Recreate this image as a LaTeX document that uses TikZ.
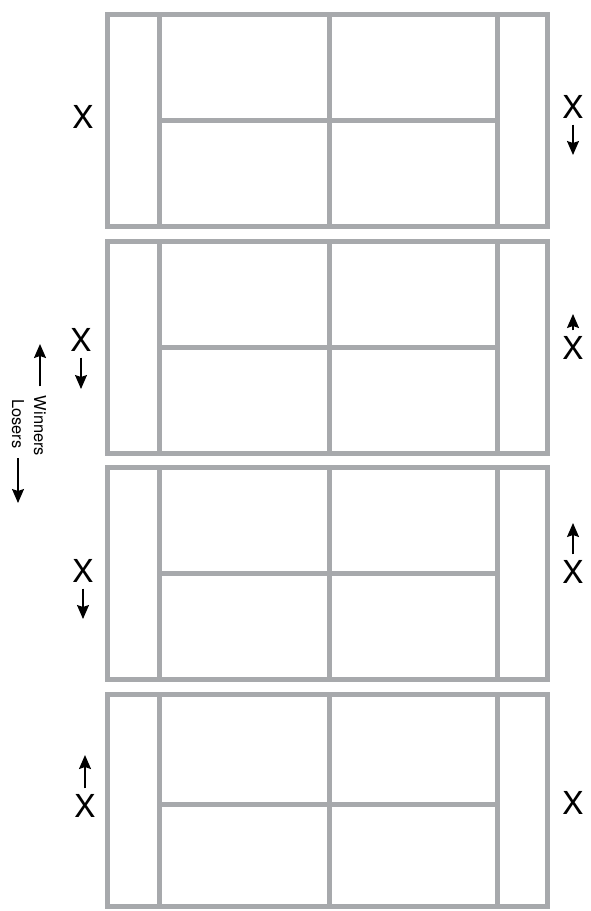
\documentclass[tikz,border=0pt]{standalone}
\usepackage{fontspec}
\setmainfont{TeX Gyre Heros}
\usetikzlibrary{arrows.meta}
\definecolor{courtgray}{RGB}{167,169,172}
\tikzset{
	court/.style={draw=courtgray, line width=0.15cm},
	plyr/.style={inner sep=0pt, font=\fontsize{27}{30}\selectfont},
	side/.style={inner sep=3pt, rotate=-90, font=\fontsize{14}{16}\selectfont},
	arr/.style={-{Stealth[length=0.42cm, width=0.36cm, inset=0.06cm]}, line width=1.3pt, shorten <=5pt}
}
\begin{document}
\begin{tikzpicture}[x=0.03cm, y=-0.03cm]
	\useasboundingbox (0,0) rectangle (591,911);
	% Courts:
	\draw[court] (107.5,14.5) rectangle (547,226.5);
	\draw[court] (159.5,14.5) -- (159.5,226.5) (497,14.5) -- (497,226.5) (329,14.5) -- (329,226.5) (159.5,120.5) -- (497,120.5);
	\draw[court] (107.5,241) rectangle (547,453);
	\draw[court] (159.5,241) -- (159.5,453) (497,241) -- (497,453) (329,241) -- (329,453) (159.5,347) -- (497,347);
	\draw[court] (107.5,467.5) rectangle (547,679.5);
	\draw[court] (159.5,467.5) -- (159.5,679.5) (497,467.5) -- (497,679.5) (329,467.5) -- (329,679.5) (159.5,573.5) -- (497,573.5);
	\draw[court] (107.5,694) rectangle (547,906);
	\draw[court] (159.5,694) -- (159.5,906) (497,694) -- (497,906) (329,694) -- (329,906) (159.5,804) -- (497,804);
	% Players:
	\node[plyr] (l1) at (83,117) {X};
	\node[plyr] (r1) at (573,107) {X};
	\node[plyr] (l2) at (81,340) {X};
	\node[plyr] (r2) at (573,348) {X};
	\node[plyr] (l3) at (83,571) {X};
	\node[plyr] (r3) at (573,572) {X};
	\node[plyr] (l4) at (85,806) {X};
	\node[plyr] (r4) at (573,803) {X};
	\coordinate (r1tip) at (573,155);
	\coordinate (l2tip) at (81,389);
	\coordinate (r2tip) at (573,314);
	\coordinate (l3tip) at (83,619);
	\coordinate (r3tip) at (573,523);
	\coordinate (l4tip) at (85,755);
	\draw[arr] (r1.south) -- (r1tip);
	\draw[arr] (l2.south) -- (l2tip);
	\draw[arr] (r2.north) -- (r2tip);
	\draw[arr] (l3.south) -- (l3tip);
	\draw[arr] (r3.north) -- (r3tip);
	\draw[arr] (l4.north) -- (l4tip);
	% Legend:
	\node[side] (winners) at (40,426) {Winners};
	\node[side] (losers) at (18,424) {Losers};
	\coordinate (wtip) at (40,344);
	\coordinate (ltip) at (18,503);
	\draw[arr] (winners.west) -- (wtip);
	\draw[arr] (losers.east) -- (ltip);
\end{tikzpicture}
\end{document}
